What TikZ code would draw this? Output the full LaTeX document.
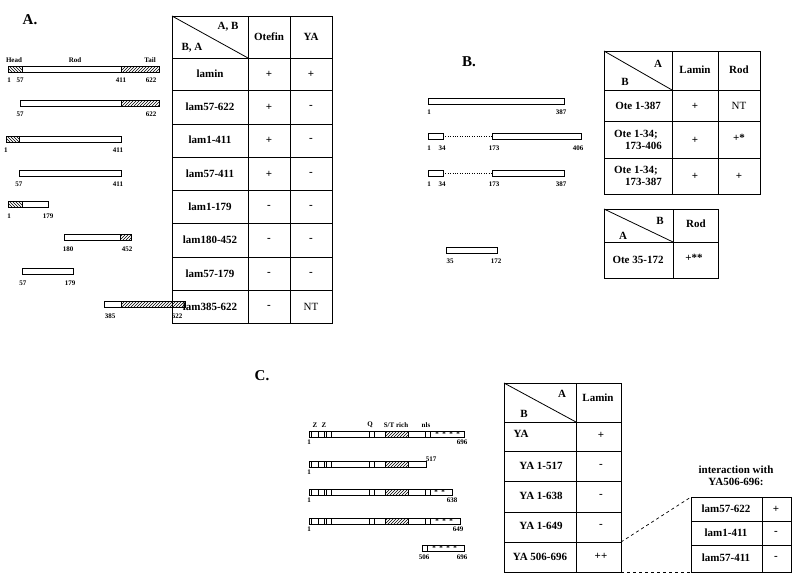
\documentclass[tikz,border=0pt]{standalone}
\usepackage{fontspec}
\setmainfont{Liberation Serif}
\usetikzlibrary{positioning, patterns}

\tikzset{
  prot/.style={draw=black, fill=white, line width=0.6pt},
  headhatch/.style={draw=black, line width=0.6pt, pattern=north west lines},
  tailhatch/.style={draw=black, line width=0.6pt, pattern=north east lines},
  grid line/.style={line width=0.8pt},
  cell/.style={font=\fontsize{11}{12}\selectfont\bfseries, align=center, inner sep=1pt},
  num/.style={font=\fontsize{7}{8}\selectfont\bfseries, inner sep=0pt},
  panel/.style={font=\fontsize{15}{16}\selectfont\bfseries, inner sep=0pt},
}

\begin{document}
\begin{tikzpicture}[x=1pt, y=-1pt]
  \useasboundingbox (0,0) rectangle (800,579);

  % ---------------- panel A ----------------
  \node[panel] (label A) at (30,20) {A.};

  \node[num] at (14,60) {Head};
  \node[num] at (75,60) {Rod};
  \node[num] at (150,60) {Tail};

  \draw[prot] (8,66) rectangle (159,72);
  \draw[headhatch] (8,66) rectangle (22,72);
  \draw[tailhatch] (121,66) rectangle (159,72);
  \node[num] at (9,80) {1};  \node[num] at (20,80) {57};
  \node[num] at (121,80) {411};  \node[num] at (151,80) {622};

  \draw[prot] (20,100) rectangle (159,106);
  \draw[tailhatch] (121,100) rectangle (159,106);
  \node[num] at (20,114) {57};  \node[num] at (151,114) {622};

  \draw[prot] (6,136) rectangle (121,142);
  \draw[headhatch] (6,136) rectangle (19,142);
  \node[num] at (6,150) {1};  \node[num] at (118,150) {411};

  \draw[prot] (19,170) rectangle (121,176);
  \node[num] at (19,184) {57};  \node[num] at (118,184) {411};

  \draw[prot] (8,201) rectangle (48,207);
  \draw[headhatch] (8,201) rectangle (22,207);
  \node[num] at (9,216) {1};  \node[num] at (48,216) {179};

  \draw[prot] (64,234) rectangle (131,240);
  \draw[tailhatch] (120,234) rectangle (131,240);
  \node[num] at (68,249) {180};  \node[num] at (127,249) {452};

  \draw[prot] (22,268) rectangle (73,274);
  \node[num] at (23,283) {57};  \node[num] at (70,283) {179};

  \draw[prot] (104,301) rectangle (185,307);
  \draw[tailhatch] (121,301) rectangle (185,307);
  \node[num] at (110,316) {385};  \node[num] at (177,316) {622};

  % table A
  \draw[grid line] (172,16) rectangle (332,323);
  \draw[grid line] (248,16) -- (248,323);
  \draw[grid line] (290,16) -- (290,323);
  \foreach \yy in {58,90,124,157,190,223,257,290}
    \draw[grid line] (172,\yy) -- (332,\yy);
  \draw[grid line] (172,16) -- (248,58);
  \node[cell] at (228,27) {A, B};
  \node[cell] at (192,48) {B, A};
  \node[cell] at (269,37) {Otefin};
  \node[cell] at (311,37) {YA};
  \foreach \yy/\nm/\ot/\ya in {74/lamin/+/+, 107/lam57-622/+/-, 140/lam1-411/+/-,
      174/lam57-411/+/-, 207/lam1-179/-/-, 240/lam180-452/-/-, 274/lam57-179/-/-}{
    \node[cell] at (210,\yy) {\nm};
    \node[cell] at (269,\yy) {\ot};
    \node[cell] at (311,\yy) {\ya};
  }
  \node[cell] at (210,307) {lam385-622};
  \node[cell] at (269,307) {-};
  \node[cell, font=\fontsize{11}{12}\selectfont] at (311,307) {NT};

  % ---------------- panel B ----------------
  \node[panel] (label B) at (469,62) {B.};

  \draw[prot] (428,98) rectangle (564,104);
  \node[num] at (429,112) {1};  \node[num] at (561,112) {387};

  \draw[prot] (428,133) rectangle (443,139);
  \draw[dotted] (443,136) -- (492,136);
  \draw[prot] (492,133) rectangle (581,139);
  \node[num] at (429,148) {1};  \node[num] at (442,148) {34};
  \node[num] at (494,148) {173};  \node[num] at (578,148) {406};

  \draw[prot] (428,170) rectangle (443,176);
  \draw[dotted] (443,173) -- (492,173);
  \draw[prot] (492,170) rectangle (564,176);
  \node[num] at (429,184) {1};  \node[num] at (442,184) {34};
  \node[num] at (494,184) {173};  \node[num] at (561,184) {387};

  \draw[prot] (446,247) rectangle (497,253);
  \node[num] at (450,261) {35};  \node[num] at (496,261) {172};

  % table B
  \draw[grid line] (604,51) rectangle (760,194);
  \draw[grid line] (672,51) -- (672,194);
  \draw[grid line] (718,51) -- (718,194);
  \foreach \yy in {90,121,158}
    \draw[grid line] (604,\yy) -- (760,\yy);
  \draw[grid line] (604,51) -- (672,90);
  \node[cell] at (658,64) {A};
  \node[cell] at (625,82) {B};
  \node[cell] at (695,70) {Lamin};
  \node[cell] at (739,70) {Rod};
  \node[cell] at (638,106) {Ote 1-387};
  \node[cell] at (695,106) {+};
  \node[cell, font=\fontsize{11}{12}\selectfont] at (739,106) {NT};
  \node[cell, align=left] at (638,140) {Ote 1-34;\\\quad 173-406};
  \node[cell] at (695,140) {+};
  \node[cell] at (739,138) {+*};
  \node[cell, align=left] at (638,176) {Ote 1-34;\\\quad 173-387};
  \node[cell] at (695,176) {+};
  \node[cell] at (739,176) {+};

  \draw[grid line] (604,209) rectangle (718,278);
  \draw[grid line] (673,209) -- (673,278);
  \draw[grid line] (604,242) -- (718,242);
  \draw[grid line] (604,209) -- (673,242);
  \node[cell] at (660,221) {B};
  \node[cell] at (623,236) {A};
  \node[cell] at (696,224) {Rod};
  \node[cell] at (638,260) {Ote 35-172};
  \node[cell] at (694,258) {+**};

  % ---------------- panel C ----------------
  \node[panel] (label C) at (262,376) {C.};

  \foreach \xx in {315,324} \node[num] at (\xx,425) {Z};
  \node[num] at (370,425) {Q};
  \node[num] at (396,425) {S/T rich};
  \node[num] at (426,425) {nls};

  \foreach \yy/\xe in {431/464, 461/426, 489/452, 518/460}{
    \draw[prot] (309,\yy) rectangle (\xe,\yy+6);
    \draw[prot] (311,\yy) rectangle (318,\yy+6);
    \draw[prot] (318,\yy) rectangle (324,\yy+6);
    \draw[prot] (326,\yy) rectangle (331,\yy+6);
    \draw[prot] (369,\yy) rectangle (374,\yy+6);
    \draw[tailhatch] (385,\yy) rectangle (408,\yy+6);
    \node[num] at (309,\yy+11) {1};
  }
  \foreach \yy in {431,489,518} \draw[prot] (425,\yy) rectangle (430,\yy+6);
  \foreach \xx in {437,444,451,458} \node[num] at (\xx,434) {*};
  \foreach \xx in {436,443} \node[num] at (\xx,492) {*};
  \foreach \xx in {437,444,451} \node[num] at (\xx,521) {*};
  \node[num] at (462,442) {696};
  \node[num] at (431,459) {517};
  \node[num] at (452,500) {638};
  \node[num] at (458,529) {649};

  \draw[prot] (422,545) rectangle (464,551);
  \draw[prot] (422,545) rectangle (427,551);
  \foreach \xx in {434,441,448,455} \node[num] at (\xx,548) {*};
  \node[num] at (424,557) {506};  \node[num] at (462,557) {696};

  % table C
  \draw[grid line] (504,383) rectangle (621,572);
  \draw[grid line] (576,383) -- (576,572);
  \foreach \yy in {422,451,481,512,542}
    \draw[grid line] (504,\yy) -- (621,\yy);
  \draw[grid line] (504,383) -- (576,422);
  \node[cell] at (562,394) {A};
  \node[cell] at (524,414) {B};
  \node[cell] at (598,398) {Lamin};
  \node[cell] at (521,434) {YA};
  \node[cell] at (601,435) {+};
  \foreach \yy/\nm in {466/YA 1-517, 496/YA 1-638, 526/YA 1-649}{
    \node[cell] at (541,\yy) {\nm};
    \node[cell] at (601,\yy) {-};
  }
  \node[cell] at (540,557) {YA 506-696};
  \node[cell] at (601,556) {++};
  \coordinate (ya row) at (621,542);
  \coordinate (ya foot) at (621,572);

  \node[cell] (interaction) at (736,476) {interaction with\\YA506-696:};
  \draw[grid line] (691,497) rectangle (791,572);
  \draw[grid line] (762,497) -- (762,572);
  \draw[grid line] (691,521) -- (791,521);
  \draw[grid line] (691,545) -- (791,545);
  \coordinate (sub top) at (691,497);
  \coordinate (sub foot) at (691,572);
  \node[cell] at (726,509) {lam57-622};  \node[cell] at (776,509) {+};
  \node[cell] at (726,533) {lam1-411};  \node[cell] at (776,533) {-};
  \node[cell] at (726,558) {lam57-411};  \node[cell] at (776,558) {-};

  \draw[dashed, line width=0.7pt] (ya row) -- (sub top);
  \draw[dashed, line width=0.7pt] (ya foot) -- (sub foot);
\end{tikzpicture}
\end{document}
